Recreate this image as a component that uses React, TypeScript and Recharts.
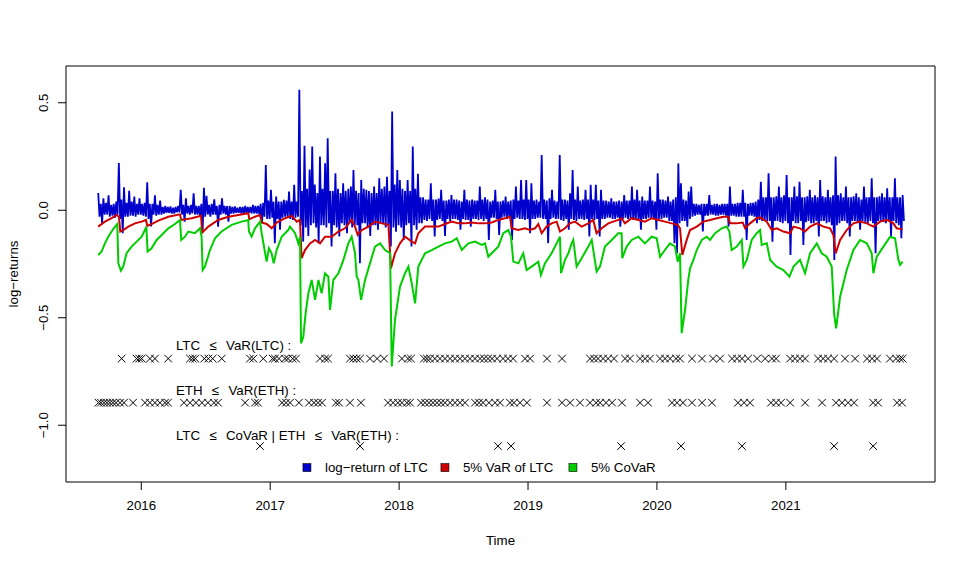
import React from 'react';
import { ComposedChart, Line, Scatter, XAxis, YAxis, ReferenceArea, ReferenceDot } from 'recharts';

const FONT = '"Liberation Sans", Arial, Helvetica, sans-serif';
const BLUE = '#0000CD';
const RED = '#CD0000';
const GREEN = '#00CD00';

// time axis (decimal years)
const yearTicks = [2016, 2017, 2018, 2019, 2020, 2021];
const valueTicks = [-1, -0.5, 0, 0.5];
const X_DOMAIN: [number, number] = [2015.416, 2022.157];
const Y_DOMAIN: [number, number] = [-1.264, 0.671];

// LTC log-returns, sampled every 0.01 year from 2015.666
const returnStart = 2015.666;
const returnStep = 0.01;
const ltcReturns = [
  0.08, -0.03, 0.03, -0.06, 0.056, -0.02, 0.035, -0.02, 0.07, -0.03,
  0.025, -0.025, 0.03, -0.035, 0.04, -0.02, 0.22, -0.04, 0.05, -0.107,
  0.107, -0.03, 0.035, -0.03, 0.09, -0.025, 0.04, -0.025, 0.064, -0.03,
  0.03, -0.02, 0.056, -0.02, 0.03, -0.025, 0.035, -0.03, 0.13, -0.04,
  0.03, -0.075, 0.03, -0.02, 0.07, -0.025, 0.025, -0.02, 0.045, -0.02,
  0.015, -0.015, 0.02, -0.012, 0.015, -0.012, 0.018, -0.015, 0.012, -0.015,
  0.015, -0.01, 0.02, -0.01, 0.095, -0.02, 0.025, -0.053, 0.056, -0.015,
  0.02, -0.02, 0.025, -0.015, 0.079, -0.02, 0.02, -0.02, 0.02, -0.025,
  0.03, -0.099, 0.105, -0.03, 0.067, -0.02, 0.025, -0.03, 0.03, -0.02,
  0.051, -0.02, 0.02, -0.076, 0.025, -0.02, 0.056, -0.015, 0.02, -0.02,
  0.02, -0.053, 0.02, -0.015, 0.015, -0.015, 0.018, -0.012, 0.012, -0.012,
  0.015, -0.015, 0.015, -0.015, 0.02, -0.012, 0.015, -0.012, 0.015, -0.015,
  0.025, -0.015, 0.02, -0.015, 0.02, -0.02, 0.03, -0.06, 0.035, -0.03,
  0.21, -0.04, 0.045, -0.04, 0.095, -0.035, 0.04, -0.153, 0.064, -0.04,
  0.04, -0.09, 0.04, -0.035, 0.048, -0.03, 0.045, -0.035, 0.087, -0.04,
  0.04, -0.045, 0.118, -0.035, 0.04, -0.03, 0.56, -0.07, 0.09, -0.146,
  0.3, -0.08, 0.1, -0.12, 0.19, -0.07, 0.296, -0.06, 0.12, -0.08,
  0.08, -0.153, 0.25, -0.07, 0.1, -0.07, 0.218, -0.08, 0.335, -0.06,
  0.09, -0.169, 0.09, -0.07, 0.172, -0.08, 0.1, -0.122, 0.08, -0.06,
  0.125, -0.07, 0.09, -0.107, 0.1, -0.06, 0.11, -0.08, 0.187, -0.07,
  0.09, -0.07, 0.08, -0.247, 0.141, -0.06, 0.1, -0.06, 0.095, -0.08,
  0.09, -0.12, 0.08, -0.07, 0.11, -0.07, 0.08, -0.09, 0.149, -0.06,
  0.1, -0.06, 0.11, -0.08, 0.156, -0.07, 0.09, -0.169, 0.459, -0.08,
  0.12, -0.1, 0.187, -0.07, 0.141, -0.08, 0.1, -0.138, 0.09, -0.07,
  0.141, -0.06, 0.09, -0.169, 0.296, -0.07, 0.1, -0.09, 0.17, -0.06,
  0.06, -0.06, 0.06, -0.045, 0.05, -0.05, 0.05, -0.04, 0.125, -0.05,
  0.05, -0.122, 0.05, -0.045, 0.055, -0.04, 0.095, -0.05, 0.045, -0.12,
  0.045, -0.04, 0.05, -0.05, 0.071, -0.04, 0.05, -0.04, 0.05, -0.045,
  0.045, -0.09, 0.04, -0.04, 0.095, -0.045, 0.05, -0.045, 0.045, -0.076,
  0.05, -0.04, 0.045, -0.04, 0.045, -0.045, 0.11, -0.04, 0.05, -0.05,
  0.06, -0.04, 0.05, -0.138, 0.04, -0.035, 0.045, -0.035, 0.095, -0.04,
  0.04, -0.115, 0.04, -0.035, 0.045, -0.03, 0.064, -0.04, 0.04, -0.035,
  0.045, -0.138, 0.05, -0.04, 0.11, -0.035, 0.045, -0.04, 0.141, -0.04,
  0.05, -0.045, 0.141, -0.04, 0.05, -0.107, 0.125, -0.04, 0.045, -0.04,
  0.05, -0.035, 0.04, -0.035, 0.257, -0.04, 0.05, -0.04, 0.045, -0.153,
  0.056, -0.04, 0.095, -0.035, 0.045, -0.04, 0.04, -0.04, 0.257, -0.045,
  0.05, -0.05, 0.05, -0.04, 0.045, -0.09, 0.079, -0.04, 0.187, -0.045,
  0.05, -0.05, 0.11, -0.04, 0.045, -0.04, 0.05, -0.045, 0.095, -0.04,
  0.05, -0.122, 0.118, -0.04, 0.05, -0.045, 0.118, -0.04, 0.045, -0.122,
  0.095, -0.04, 0.045, -0.04, 0.045, -0.035, 0.04, -0.035, 0.056, -0.04,
  0.04, -0.04, 0.04, -0.035, 0.045, -0.076, 0.04, -0.04, 0.071, -0.035,
  0.045, -0.04, 0.045, -0.04, 0.11, -0.045, 0.05, -0.045, 0.095, -0.04,
  0.045, -0.09, 0.064, -0.04, 0.045, -0.04, 0.045, -0.035, 0.11, -0.04,
  0.045, -0.04, 0.04, -0.09, 0.172, -0.04, 0.05, -0.04, 0.05, -0.035,
  0.045, -0.035, 0.064, -0.05, 0.04, -0.05, 0.05, -0.153, 0.06, -0.2,
  0.218, -0.06, 0.125, -0.05, 0.05, -0.05, 0.045, -0.076, 0.087, -0.04,
  0.11, -0.03, 0.03, -0.025, 0.03, -0.02, 0.025, -0.02, 0.03, -0.099,
  0.03, -0.025, 0.03, -0.025, 0.071, -0.02, 0.025, -0.02, 0.03, -0.025,
  0.03, -0.025, 0.025, -0.02, 0.03, -0.02, 0.03, -0.025, 0.03, -0.076,
  0.11, -0.025, 0.03, -0.025, 0.03, -0.03, 0.035, -0.03, 0.035, -0.03,
  0.095, -0.03, 0.035, -0.138, 0.03, -0.025, 0.035, -0.025, 0.035, -0.03,
  0.04, -0.06, 0.05, -0.045, 0.133, -0.05, 0.06, -0.05, 0.06, -0.05,
  0.172, -0.05, 0.06, -0.146, 0.06, -0.05, 0.065, -0.05, 0.11, -0.055,
  0.06, -0.06, 0.07, -0.05, 0.164, -0.06, 0.06, -0.208, 0.06, -0.05,
  0.11, -0.06, 0.065, -0.06, 0.133, -0.05, 0.06, -0.161, 0.06, -0.055,
  0.065, -0.05, 0.095, -0.06, 0.06, -0.06, 0.07, -0.05, 0.06, -0.122,
  0.141, -0.05, 0.065, -0.05, 0.06, -0.06, 0.095, -0.055, 0.06, -0.07,
  0.07, -0.231, 0.25, -0.07, 0.07, -0.06, 0.079, -0.05, 0.06, -0.05,
  0.11, -0.06, 0.06, -0.122, 0.06, -0.05, 0.065, -0.05, 0.079, -0.06,
  0.06, -0.09, 0.05, -0.05, 0.11, -0.055, 0.06, -0.06, 0.06, -0.05,
  0.149, -0.06, 0.06, -0.2, 0.06, -0.05, 0.065, -0.05, 0.079, -0.055,
  0.06, -0.06, 0.102, -0.05, 0.06, -0.122, 0.06, -0.05, 0.149, -0.06,
  0.06, -0.07, 0.06, -0.13, 0.071, -0.05,
];

// 5% VaR of LTC
const varDates = [
  2015.666, 2015.718, 2015.77, 2015.809, 2015.827, 2015.837, 2015.86, 2015.899, 2015.951, 2016.003,
  2016.036, 2016.047, 2016.08, 2016.132, 2016.21, 2016.3, 2016.31, 2016.391, 2016.463, 2016.473,
  2016.52, 2016.597, 2016.675, 2016.753, 2016.83, 2016.838, 2016.882, 2016.921, 2016.934, 2016.972,
  2016.998, 2017.011, 2017.05, 2017.115, 2017.167, 2017.206, 2017.231, 2017.244, 2017.27, 2017.309,
  2017.348, 2017.387, 2017.425, 2017.477, 2017.529, 2017.58, 2017.632, 2017.658, 2017.679, 2017.71,
  2017.762, 2017.813, 2017.865, 2017.917, 2017.937, 2017.968, 2018.007, 2018.046, 2018.098, 2018.124,
  2018.149, 2018.201, 2018.253, 2018.305, 2018.356, 2018.408, 2018.46, 2018.511, 2018.563, 2018.615,
  2018.667, 2018.718, 2018.769, 2018.821, 2018.86, 2018.873, 2018.925, 2018.976, 2019.015, 2019.054,
  2019.08, 2019.106, 2019.144, 2019.183, 2019.222, 2019.248, 2019.287, 2019.325, 2019.364, 2019.416,
  2019.468, 2019.506, 2019.532, 2019.571, 2019.623, 2019.7, 2019.726, 2019.752, 2019.804, 2019.856,
  2019.907, 2019.959, 2020.011, 2020.062, 2020.114, 2020.161, 2020.179, 2020.197, 2020.231, 2020.257,
  2020.309, 2020.36, 2020.412, 2020.464, 2020.516, 2020.554, 2020.567, 2020.619, 2020.666, 2020.684,
  2020.722, 2020.774, 2020.8, 2020.852, 2020.891, 2020.929, 2020.981, 2021.033, 2021.059, 2021.11,
  2021.149, 2021.188, 2021.24, 2021.291, 2021.343, 2021.369, 2021.387, 2021.421, 2021.472, 2021.524,
  2021.576, 2021.628, 2021.679, 2021.731, 2021.783, 2021.834, 2021.86, 2021.906,
];
const varValues = [
  -0.076, -0.053, -0.037, -0.022, -0.03, -0.099, -0.092, -0.076, -0.061, -0.053,
  -0.045, -0.073, -0.064, -0.048, -0.03, -0.019, -0.045, -0.037, -0.026, -0.104,
  -0.076, -0.045, -0.03, -0.022, -0.014, -0.042, -0.03, -0.022, -0.057, -0.064,
  -0.076, -0.084, -0.057, -0.037, -0.026, -0.053, -0.045, -0.223, -0.185, -0.154,
  -0.138, -0.154, -0.123, -0.123, -0.099, -0.084, -0.045, -0.076, -0.115, -0.092,
  -0.076, -0.053, -0.061, -0.068, -0.27, -0.2, -0.154, -0.123, -0.146, -0.154,
  -0.107, -0.076, -0.076, -0.076, -0.064, -0.053, -0.061, -0.061, -0.057, -0.061,
  -0.061, -0.057, -0.045, -0.037, -0.03, -0.084, -0.092, -0.084, -0.092, -0.084,
  -0.064, -0.107, -0.076, -0.061, -0.053, -0.099, -0.084, -0.061, -0.053, -0.076,
  -0.061, -0.045, -0.107, -0.084, -0.061, -0.045, -0.037, -0.061, -0.037, -0.045,
  -0.053, -0.037, -0.045, -0.053, -0.061, -0.068, -0.084, -0.208, -0.138, -0.092,
  -0.076, -0.053, -0.045, -0.037, -0.03, -0.03, -0.061, -0.061, -0.057, -0.084,
  -0.061, -0.037, -0.033, -0.053, -0.092, -0.084, -0.099, -0.107, -0.076, -0.084,
  -0.099, -0.076, -0.061, -0.076, -0.084, -0.115, -0.2, -0.138, -0.092, -0.061,
  -0.053, -0.061, -0.076, -0.053, -0.045, -0.061, -0.084, -0.089,
];

// 5% CoVaR
const covarDates = [
  2015.666, 2015.692, 2015.718, 2015.744, 2015.77, 2015.796, 2015.814, 2015.822, 2015.842, 2015.86,
  2015.886, 2015.925, 2015.964, 2016.003, 2016.028, 2016.039, 2016.049, 2016.08, 2016.119, 2016.158,
  2016.21, 2016.261, 2016.3, 2016.31, 2016.339, 2016.365, 2016.416, 2016.455, 2016.468, 2016.476,
  2016.494, 2016.533, 2016.572, 2016.623, 2016.701, 2016.778, 2016.83, 2016.835, 2016.856, 2016.882,
  2016.921, 2016.934, 2016.972, 2016.99, 2017.011, 2017.027, 2017.05, 2017.089, 2017.14, 2017.154,
  2017.193, 2017.218, 2017.231, 2017.239, 2017.257, 2017.275, 2017.296, 2017.322, 2017.348, 2017.374,
  2017.399, 2017.425, 2017.451, 2017.464, 2017.49, 2017.529, 2017.568, 2017.606, 2017.632, 2017.658,
  2017.671, 2017.684, 2017.705, 2017.736, 2017.774, 2017.813, 2017.852, 2017.891, 2017.93, 2017.943,
  2017.968, 2018.007, 2018.046, 2018.072, 2018.098, 2018.124, 2018.149, 2018.201, 2018.253, 2018.305,
  2018.356, 2018.408, 2018.447, 2018.486, 2018.537, 2018.589, 2018.641, 2018.666, 2018.692, 2018.718,
  2018.769, 2018.808, 2018.847, 2018.868, 2018.886, 2018.925, 2018.963, 2018.989, 2019.028, 2019.08,
  2019.1, 2019.131, 2019.183, 2019.222, 2019.248, 2019.256, 2019.287, 2019.313, 2019.338, 2019.351,
  2019.377, 2019.416, 2019.468, 2019.494, 2019.532, 2019.558, 2019.597, 2019.649, 2019.7, 2019.726,
  2019.731, 2019.765, 2019.804, 2019.856, 2019.907, 2019.959, 2019.998, 2020.024, 2020.062, 2020.101,
  2020.14, 2020.161, 2020.179, 2020.192, 2020.218, 2020.243, 2020.257, 2020.283, 2020.309, 2020.348,
  2020.386, 2020.412, 2020.451, 2020.503, 2020.541, 2020.562, 2020.58, 2020.619, 2020.658, 2020.671,
  2020.697, 2020.735, 2020.774, 2020.8, 2020.813, 2020.852, 2020.878, 2020.929, 2020.981, 2021.028,
  2021.059, 2021.11, 2021.149, 2021.188, 2021.24, 2021.278, 2021.317, 2021.356, 2021.374, 2021.39,
  2021.421, 2021.472, 2021.524, 2021.576, 2021.628, 2021.666, 2021.679, 2021.705, 2021.757, 2021.809,
  2021.847, 2021.873, 2021.886, 2021.906,
];
const covarValues = [
  -0.208, -0.192, -0.154, -0.123, -0.099, -0.076, -0.064, -0.247, -0.281, -0.262,
  -0.2, -0.169, -0.146, -0.123, -0.092, -0.076, -0.192, -0.177, -0.138, -0.115,
  -0.084, -0.064, -0.045, -0.138, -0.123, -0.099, -0.107, -0.084, -0.123, -0.278,
  -0.262, -0.185, -0.13, -0.099, -0.068, -0.053, -0.045, -0.099, -0.123, -0.084,
  -0.053, -0.107, -0.239, -0.177, -0.2, -0.247, -0.185, -0.123, -0.092, -0.076,
  -0.107, -0.154, -0.123, -0.619, -0.588, -0.479, -0.386, -0.324, -0.417, -0.324,
  -0.386, -0.293, -0.309, -0.464, -0.324, -0.293, -0.231, -0.154, -0.123, -0.2,
  -0.309, -0.324, -0.417, -0.324, -0.247, -0.169, -0.154, -0.185, -0.2, -0.727,
  -0.51, -0.355, -0.293, -0.262, -0.34, -0.433, -0.262, -0.2, -0.185, -0.169,
  -0.154, -0.146, -0.13, -0.185, -0.154, -0.146, -0.161, -0.154, -0.216, -0.2,
  -0.169, -0.107, -0.092, -0.123, -0.239, -0.247, -0.2, -0.278, -0.262, -0.239,
  -0.301, -0.247, -0.2, -0.154, -0.123, -0.293, -0.231, -0.2, -0.154, -0.138,
  -0.262, -0.223, -0.169, -0.138, -0.285, -0.262, -0.169, -0.138, -0.107, -0.107,
  -0.223, -0.169, -0.138, -0.123, -0.154, -0.123, -0.13, -0.216, -0.185, -0.154,
  -0.169, -0.239, -0.2, -0.572, -0.464, -0.324, -0.27, -0.231, -0.185, -0.138,
  -0.123, -0.138, -0.107, -0.084, -0.076, -0.099, -0.185, -0.169, -0.138, -0.262,
  -0.231, -0.138, -0.107, -0.092, -0.161, -0.154, -0.231, -0.262, -0.278, -0.309,
  -0.262, -0.231, -0.293, -0.2, -0.154, -0.2, -0.216, -0.262, -0.479, -0.549,
  -0.402, -0.278, -0.185, -0.138, -0.154, -0.2, -0.293, -0.216, -0.169, -0.123,
  -0.13, -0.231, -0.254, -0.239,
];

// exceedance dates
const ltcViolations = [
  2015.848, 2015.964, 2015.984, 2016.003, 2016.067, 2016.106, 2016.209, 2016.378, 2016.399, 2016.419,
  2016.489, 2016.52, 2016.554, 2016.624, 2016.843, 2016.869, 2016.946, 2017.019, 2017.037, 2017.068,
  2017.115, 2017.138, 2017.175, 2017.2, 2017.386, 2017.425, 2017.448, 2017.619, 2017.645, 2017.671,
  2017.697, 2017.774, 2017.829, 2017.883, 2018.022, 2018.069, 2018.092, 2018.193, 2018.216, 2018.24,
  2018.278, 2018.317, 2018.356, 2018.395, 2018.434, 2018.472, 2018.511, 2018.55, 2018.589, 2018.628,
  2018.659, 2018.69, 2018.721, 2018.76, 2018.806, 2018.845, 2018.884, 2018.977, 2019.016, 2019.147,
  2019.264, 2019.481, 2019.512, 2019.543, 2019.582, 2019.621, 2019.667, 2019.753, 2019.791, 2019.869,
  2019.908, 2019.946, 2020.024, 2020.063, 2020.102, 2020.148, 2020.179, 2020.272, 2020.35, 2020.435,
  2020.49, 2020.583, 2020.621, 2020.66, 2020.707, 2020.777, 2020.839, 2020.893, 2020.924, 2021.033,
  2021.071, 2021.11, 2021.149, 2021.25, 2021.289, 2021.327, 2021.374, 2021.459, 2021.537, 2021.63,
  2021.669, 2021.707, 2021.808, 2021.855, 2021.886, 2021.906,
];
const ethViolations = [
  2015.668, 2015.687, 2015.711, 2015.734, 2015.757, 2015.78, 2015.804, 2015.835, 2015.866, 2015.936,
  2016.029, 2016.067, 2016.106, 2016.145, 2016.184, 2016.207, 2016.331, 2016.378, 2016.424, 2016.471,
  2016.517, 2016.564, 2016.595, 2016.805, 2016.882, 2016.905, 2017.092, 2017.123, 2017.154, 2017.223,
  2017.301, 2017.34, 2017.371, 2017.402, 2017.51, 2017.534, 2017.619, 2017.704, 2017.914, 2017.953,
  2017.991, 2018.022, 2018.061, 2018.085, 2018.17, 2018.201, 2018.232, 2018.263, 2018.294, 2018.325,
  2018.356, 2018.395, 2018.434, 2018.472, 2018.511, 2018.589, 2018.62, 2018.651, 2018.697, 2018.744,
  2018.783, 2018.86, 2018.891, 2018.938, 2018.992, 2019.147, 2019.264, 2019.326, 2019.403, 2019.481,
  2019.528, 2019.559, 2019.605, 2019.652, 2019.729, 2019.869, 2019.931, 2020.117, 2020.156, 2020.202,
  2020.272, 2020.35, 2020.427, 2020.629, 2020.676, 2020.722, 2020.885, 2020.924, 2020.963, 2021.033,
  2021.149, 2021.281, 2021.389, 2021.436, 2021.483, 2021.529, 2021.677, 2021.715, 2021.863, 2021.901,
];
const covarViolations = [2016.921, 2017.697, 2018.767, 2018.868, 2019.722, 2020.187, 2020.66, 2021.374, 2021.677];
const markLevels = [-0.69, -0.895, -1.097];

const REL = '\u2002\u2009\u2264\u2002\u2009';
const annotationTexts = [
  `LTC${REL}VaR(LTC) :`,
  `ETH${REL}VaR(ETH) :`,
  `LTC${REL}CoVaR\u00a0|\u00a0ETH${REL}VaR(ETH) :`,
];
const annotationYear = 2016.269;
const annotationLevels = [-0.627, -0.839, -1.048];

const legendLabels = ['log\u2212return of LTC', '5% VaR of LTC', '5% CoVaR'];
const legendColors = [BLUE, RED, GREEN];
const legendAnchor = { t: 2017.254, v: -1.197 };

const returnsData = ltcReturns.map((v, i) => ({ t: +(returnStart + i * returnStep).toFixed(3), v }));
const varData = varDates.map((t, i) => ({ t, v: varValues[i] }));
const covarData = covarDates.map((t, i) => ({ t, v: covarValues[i] }));
const markSets = [ltcViolations, ethViolations, covarViolations].map((dates, r) =>
  dates.map((t) => ({ t, v: markLevels[r] }))
);

const fmt = (v: number) => (v < 0 ? '\u2212' + Math.abs(v).toFixed(1) : v.toFixed(1));

const CrossMark = (props: any) => {
  const { cx, cy } = props;
  if (cx == null || cy == null) return null;
  const s = 3.8;
  return (
    <path
      d={`M${cx - s},${cy - s}L${cx + s},${cy + s}M${cx - s},${cy + s}L${cx + s},${cy - s}`}
      stroke="#000"
      strokeWidth={1}
      fill="none"
    />
  );
};

const YTick = (props: any) => {
  const { y, payload } = props;
  const x = 43.5;
  return (
    <text
      x={x}
      y={y}
      transform={`rotate(-90, ${x}, ${y})`}
      textAnchor="middle"
      dominantBaseline="central"
      fontSize={13.3}
      fontFamily={FONT}
      fill="#000"
    >
      {fmt(payload.value)}
    </text>
  );
};

const XTitle = (props: any) => {
  const vb = props.viewBox || { x: 66, y: 482, width: 869 };
  return (
    <text
      x={vb.x + vb.width / 2}
      y={vb.y + 58}
      textAnchor="middle"
      dominantBaseline="central"
      fontSize={13.3}
      fontFamily={FONT}
      fill="#000"
    >
      Time
    </text>
  );
};

const YTitle = (props: any) => {
  const vb = props.viewBox || { x: 0, y: 66, height: 416 };
  const x = 13.5;
  const y = vb.y + vb.height / 2;
  return (
    <text
      x={x}
      y={y}
      transform={`rotate(-90, ${x}, ${y})`}
      textAnchor="middle"
      dominantBaseline="central"
      fontSize={13.3}
      fontFamily={FONT}
      fill="#000"
    >
      log{'\u2212'}returns
    </text>
  );
};

const makeAnnotation = (label: string) => (props: any) => {
  const { cx, cy } = props;
  return (
    <text x={cx} y={cy} dominantBaseline="central" fontSize={13.3} fontFamily={FONT} fill="#000">
      {label}
    </text>
  );
};

const LegendShape = (props: any) => {
  const { cx, cy } = props;
  const offsets = [0, 138, 266];
  return (
    <g>
      {legendLabels.map((label, i) => (
        <g key={label}>
          <rect x={cx + offsets[i]} y={cy - 4} width={8} height={8} fill={legendColors[i]} stroke="#000" strokeWidth={0.6} />
          <text
            x={cx + offsets[i] + 22}
            y={cy}
            dominantBaseline="central"
            fontSize={13.3}
            fontFamily={FONT}
            fill="#000"
          >
            {label}
          </text>
        </g>
      ))}
    </g>
  );
};

export default function App() {
  return (
    <div style={{ position: 'absolute', left: 0, top: 0, width: 969, height: 565, background: '#fff' }}>
      <ComposedChart
        width={969}
        height={565}
        margin={{ top: 66, right: 34, bottom: 0, left: 0 }}
        style={{ fontFamily: FONT }}
      >
        <XAxis
          dataKey="t"
          type="number"
          domain={X_DOMAIN}
          allowDataOverflow
          ticks={yearTicks}
          tickFormatter={(v: number) => String(v)}
          height={83}
          axisLine={false}
          tickLine={{ stroke: '#000' }}
          tickSize={8}
          tickMargin={11}
          tick={{ fontSize: 13.3, fill: '#000', fontFamily: FONT }}
          label={XTitle}
          interval={0}
        />
        <YAxis
          dataKey="v"
          type="number"
          domain={Y_DOMAIN}
          allowDataOverflow
          ticks={valueTicks}
          width={66}
          axisLine={false}
          tickLine={{ stroke: '#000' }}
          tickSize={8}
          tick={<YTick />}
          label={YTitle}
          interval={0}
        />
        <ReferenceArea
          x1={X_DOMAIN[0]}
          x2={X_DOMAIN[1]}
          y1={Y_DOMAIN[0]}
          y2={Y_DOMAIN[1]}
          fill="none"
          stroke="#000"
          strokeWidth={1}
          ifOverflow="visible"
        />
        <Line
          data={returnsData}
          dataKey="v"
          stroke={BLUE}
          strokeWidth={1.8}
          dot={false}
          activeDot={false}
          isAnimationActive={false}
          type="linear"
        />
        <Line
          data={varData}
          dataKey="v"
          stroke={RED}
          strokeWidth={2}
          dot={false}
          activeDot={false}
          isAnimationActive={false}
          type="linear"
        />
        <Line
          data={covarData}
          dataKey="v"
          stroke={GREEN}
          strokeWidth={2}
          dot={false}
          activeDot={false}
          isAnimationActive={false}
          type="linear"
        />
        {markSets.map((set, i) => (
          <Scatter key={'marks' + i} data={set} dataKey="v" shape={CrossMark} isAnimationActive={false} />
        ))}
        {annotationTexts.map((label, i) => (
          <ReferenceDot
            key={label}
            x={annotationYear}
            y={annotationLevels[i]}
            r={0}
            shape={makeAnnotation(label)}
            ifOverflow="visible"
          />
        ))}
        <ReferenceDot x={legendAnchor.t} y={legendAnchor.v} r={0} shape={LegendShape} ifOverflow="visible" />
      </ComposedChart>
    </div>
  );
}
